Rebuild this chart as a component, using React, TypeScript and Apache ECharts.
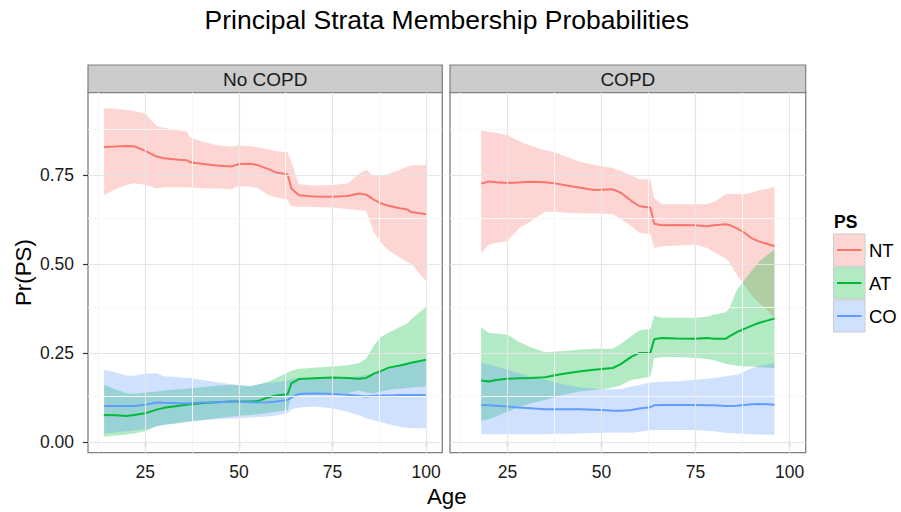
import React, { useEffect, useRef } from "react";
import * as echarts from "echarts";

// ---------- data ----------
const ages1 = [14, 17, 20, 22, 25, 28, 30, 34, 36, 37, 40, 44, 48, 50, 53, 55, 58, 60, 63, 64, 66, 70, 75, 79, 82, 84, 86, 88, 90, 93, 95, 96, 100];
const nt1 = [0.829, 0.830, 0.832, 0.831, 0.818, 0.802, 0.797, 0.793, 0.792, 0.786, 0.782, 0.777, 0.774, 0.781, 0.782, 0.778, 0.766, 0.757, 0.752, 0.712, 0.693, 0.690, 0.689, 0.691, 0.698, 0.695, 0.681, 0.670, 0.664, 0.657, 0.653, 0.646, 0.640];
const ntHi1 = [0.938, 0.936, 0.933, 0.930, 0.922, 0.888, 0.883, 0.875, 0.873, 0.855, 0.845, 0.834, 0.830, 0.833, 0.831, 0.828, 0.822, 0.817, 0.814, 0.786, 0.724, 0.721, 0.722, 0.726, 0.752, 0.765, 0.746, 0.749, 0.752, 0.765, 0.774, 0.777, 0.778];
const ntLo1 = [0.694, 0.710, 0.722, 0.727, 0.723, 0.712, 0.716, 0.716, 0.716, 0.715, 0.713, 0.712, 0.710, 0.719, 0.717, 0.714, 0.693, 0.688, 0.681, 0.662, 0.661, 0.660, 0.659, 0.655, 0.652, 0.649, 0.590, 0.560, 0.538, 0.518, 0.506, 0.500, 0.452];
const at1 = [0.076, 0.075, 0.073, 0.076, 0.081, 0.091, 0.096, 0.102, 0.105, 0.106, 0.109, 0.112, 0.114, 0.114, 0.114, 0.115, 0.126, 0.131, 0.134, 0.165, 0.177, 0.179, 0.181, 0.180, 0.178, 0.180, 0.192, 0.200, 0.209, 0.215, 0.220, 0.223, 0.231];
const atHi1 = [0.161, 0.148, 0.137, 0.135, 0.139, 0.142, 0.145, 0.148, 0.150, 0.151, 0.154, 0.158, 0.161, 0.159, 0.157, 0.161, 0.170, 0.180, 0.195, 0.200, 0.206, 0.209, 0.212, 0.216, 0.221, 0.235, 0.271, 0.296, 0.308, 0.323, 0.334, 0.345, 0.380];
const atLo1 = [0.015, 0.018, 0.021, 0.024, 0.030, 0.045, 0.049, 0.053, 0.056, 0.057, 0.061, 0.067, 0.072, 0.074, 0.076, 0.078, 0.082, 0.085, 0.090, 0.125, 0.131, 0.137, 0.137, 0.137, 0.145, 0.139, 0.137, 0.142, 0.147, 0.150, 0.152, 0.153, 0.156];
const co1 = [0.101, 0.101, 0.101, 0.101, 0.105, 0.111, 0.110, 0.109, 0.109, 0.109, 0.111, 0.112, 0.114, 0.113, 0.112, 0.111, 0.112, 0.114, 0.118, 0.125, 0.135, 0.136, 0.135, 0.133, 0.130, 0.128, 0.130, 0.131, 0.131, 0.132, 0.132, 0.132, 0.132];
const coHi1 = [0.203, 0.196, 0.186, 0.186, 0.192, 0.193, 0.185, 0.182, 0.180, 0.180, 0.175, 0.168, 0.162, 0.160, 0.157, 0.162, 0.166, 0.168, 0.172, 0.178, 0.180, 0.180, 0.180, 0.182, 0.185, 0.188, 0.192, 0.198, 0.205, 0.215, 0.222, 0.224, 0.231];
const coLo1 = [0.024, 0.027, 0.030, 0.033, 0.036, 0.043, 0.047, 0.054, 0.058, 0.059, 0.061, 0.064, 0.066, 0.067, 0.069, 0.070, 0.072, 0.075, 0.081, 0.092, 0.097, 0.100, 0.095, 0.085, 0.075, 0.067, 0.061, 0.056, 0.050, 0.043, 0.040, 0.039, 0.039];

const ages2 = [18, 20, 22, 25, 28, 31, 35, 38, 40, 44, 48, 50, 53, 55, 58, 60, 63, 64, 66, 70, 75, 78, 80, 83, 84, 86, 88, 90, 92, 94, 96];
const nt2 = [0.726, 0.732, 0.730, 0.728, 0.729, 0.731, 0.730, 0.726, 0.722, 0.715, 0.708, 0.709, 0.710, 0.701, 0.677, 0.663, 0.658, 0.613, 0.609, 0.610, 0.609, 0.606, 0.609, 0.612, 0.610, 0.600, 0.588, 0.572, 0.563, 0.557, 0.550];
const ntHi2 = [0.875, 0.872, 0.869, 0.862, 0.846, 0.833, 0.820, 0.813, 0.804, 0.788, 0.778, 0.775, 0.770, 0.762, 0.749, 0.738, 0.738, 0.685, 0.668, 0.668, 0.668, 0.668, 0.675, 0.696, 0.697, 0.697, 0.696, 0.700, 0.708, 0.711, 0.717];
const ntLo2 = [0.530, 0.555, 0.560, 0.565, 0.600, 0.619, 0.647, 0.647, 0.645, 0.643, 0.642, 0.642, 0.640, 0.628, 0.606, 0.588, 0.583, 0.545, 0.550, 0.552, 0.555, 0.545, 0.533, 0.516, 0.505, 0.470, 0.440, 0.412, 0.390, 0.370, 0.349];
const at2 = [0.173, 0.170, 0.174, 0.178, 0.179, 0.180, 0.182, 0.188, 0.192, 0.198, 0.203, 0.205, 0.208, 0.218, 0.240, 0.250, 0.251, 0.289, 0.292, 0.291, 0.290, 0.292, 0.290, 0.290, 0.297, 0.309, 0.318, 0.327, 0.335, 0.341, 0.347];
const atHi2 = [0.323, 0.306, 0.305, 0.302, 0.282, 0.267, 0.252, 0.254, 0.256, 0.259, 0.262, 0.262, 0.262, 0.275, 0.298, 0.313, 0.318, 0.355, 0.349, 0.349, 0.349, 0.352, 0.358, 0.364, 0.375, 0.428, 0.455, 0.482, 0.508, 0.525, 0.541];
const atLo2 = [0.060, 0.064, 0.072, 0.085, 0.098, 0.108, 0.118, 0.127, 0.133, 0.142, 0.146, 0.148, 0.153, 0.159, 0.175, 0.178, 0.184, 0.236, 0.238, 0.239, 0.236, 0.233, 0.230, 0.220, 0.218, 0.214, 0.212, 0.212, 0.210, 0.209, 0.208];
const co2 = [0.104, 0.103, 0.102, 0.100, 0.097, 0.095, 0.092, 0.092, 0.092, 0.092, 0.091, 0.090, 0.088, 0.088, 0.090, 0.094, 0.098, 0.103, 0.104, 0.104, 0.104, 0.103, 0.103, 0.101, 0.101, 0.102, 0.104, 0.106, 0.107, 0.106, 0.105];
const coHi2 = [0.222, 0.218, 0.212, 0.203, 0.193, 0.184, 0.175, 0.166, 0.162, 0.154, 0.150, 0.148, 0.148, 0.148, 0.156, 0.160, 0.167, 0.168, 0.169, 0.170, 0.175, 0.178, 0.180, 0.185, 0.186, 0.189, 0.198, 0.208, 0.214, 0.218, 0.222];
const coLo2 = [0.022, 0.022, 0.022, 0.022, 0.022, 0.022, 0.022, 0.023, 0.023, 0.024, 0.025, 0.026, 0.027, 0.027, 0.026, 0.029, 0.033, 0.034, 0.034, 0.034, 0.034, 0.032, 0.030, 0.026, 0.025, 0.024, 0.023, 0.022, 0.021, 0.021, 0.020];

const facets = ["No COPD", "COPD"];
const strata = ["NT", "AT", "CO"];
const xTicks = [25, 50, 75, 100];
const xMinor = [12.5, 37.5, 62.5, 87.5];
const yTicks = [0, 0.25, 0.5, 0.75];
const yMinor = [0.125, 0.375, 0.625, 0.875];

// ---------- styling ----------
const COLORS = ["#F8766D", "#00BA38", "#619CFF"];
const FILLS = ["rgba(248,118,109,0.3)", "rgba(0,186,56,0.3)", "rgba(97,156,255,0.3)"];
const FONT = "Liberation Sans, Arial, Helvetica, sans-serif";

const GRIDS = [
  { left: 88, top: 92.5, width: 354.3, height: 360.2 },
  { left: 450, top: 92.5, width: 355.7, height: 360.2 },
];

export default function App() {
  const ref = useRef<HTMLDivElement>(null);

  useEffect(() => {
    if (!ref.current) return;
    const chart = echarts.init(ref.current, undefined, { renderer: "svg" });

    const panels = [
      { ages: ages1, mid: [nt1, at1, co1], lo: [ntLo1, atLo1, coLo1], hi: [ntHi1, atHi1, coHi1] },
      { ages: ages2, mid: [nt2, at2, co2], lo: [ntLo2, atLo2, coLo2], hi: [ntHi2, atHi2, coHi2] },
    ];

    const series: any[] = [];
    panels.forEach((p, g) => {
      // grid lines
      const ml: any[] = [];
      yMinor.forEach((v) => ml.push({ yAxis: v, lineStyle: { color: "#F7F7F7", width: 1, type: "solid" } }));
      xMinor.forEach((v) => ml.push({ xAxis: v, lineStyle: { color: "#F7F7F7", width: 1, type: "solid" } }));
      yTicks.forEach((v) => ml.push({ yAxis: v, lineStyle: { color: "#E5E5E5", width: 1.2, type: "solid" } }));
      xTicks.forEach((v) => ml.push({ xAxis: v, lineStyle: { color: "#E5E5E5", width: 1.2, type: "solid" } }));
      series.push({
        type: "line",
        xAxisIndex: g,
        yAxisIndex: g,
        data: [],
        z: 1,
        silent: true,
        markLine: { silent: true, symbol: ["none", "none"], label: { show: false }, animation: false, data: ml },
      });
      // ribbons (polygon through the axes' scales)
      strata.forEach((s, k) => {
        const ages = p.ages;
        const lo = p.lo[k];
        const hi = p.hi[k];
        series.push({
          type: "custom",
          xAxisIndex: g,
          yAxisIndex: g,
          silent: true,
          z: 2,
          data: ages.map((a, i) => [a, lo[i], hi[i]]),
          encode: { x: 0, y: [1, 2] },
          renderItem: (params: any, api: any) => {
            if (params.dataIndex !== 0) return null;
            const pts: number[][] = [];
            for (let i = 0; i < ages.length; i++) pts.push(api.coord([ages[i], hi[i]]));
            for (let i = ages.length - 1; i >= 0; i--) pts.push(api.coord([ages[i], lo[i]]));
            return { type: "polygon", shape: { points: pts }, style: { fill: FILLS[k] } };
          },
        });
      });
      // lines
      strata.forEach((s, k) => {
        series.push({
          type: "line",
          name: s,
          xAxisIndex: g,
          yAxisIndex: g,
          symbol: "none",
          silent: true,
          z: 3,
          lineStyle: { color: COLORS[k], width: 2 },
          data: p.ages.map((a, i) => [a, p.mid[k][i]]),
        });
      });
    });

    const axisLabelBase = { fontSize: 17.5, color: "#1a1a1a", fontFamily: FONT };

    const graphic: any[] = [];
    graphic.push({
      type: "text",
      x: 446.8,
      y: 20,
      style: { text: "Principal Strata Membership Probabilities", fontSize: 26.5, fontFamily: FONT, fill: "#000", align: "center", verticalAlign: "middle" },
    });
    GRIDS.forEach((gr, g) => {
      graphic.push({
        type: "rect",
        shape: { x: gr.left, y: 65, width: gr.width, height: gr.top - 65 },
        style: { fill: "#CCCCCC", stroke: "#7F7F7F", lineWidth: 1.2 },
      });
      graphic.push({
        type: "text",
        x: gr.left + gr.width / 2,
        y: 79.5,
        style: { text: facets[g], fontSize: 19, fontFamily: FONT, fill: "#1a1a1a", align: "center", verticalAlign: "middle" },
      });
    });
    graphic.push({
      type: "text",
      x: 446.8,
      y: 496,
      style: { text: "Age", fontSize: 22.3, fontFamily: FONT, fill: "#000", align: "center", verticalAlign: "middle" },
    });
    graphic.push({
      type: "text",
      x: 23,
      y: 272.6,
      rotation: Math.PI / 2,
      style: { text: "Pr(PS)", fontSize: 22.3, fontFamily: FONT, fill: "#000", align: "center", verticalAlign: "middle" },
    });
    graphic.push({
      type: "text",
      x: 834,
      y: 222,
      style: { text: "PS", fontSize: 17.5, fontWeight: "bold", fontFamily: FONT, fill: "#000", align: "left", verticalAlign: "middle" },
    });
    strata.forEach((s, k) => {
      const y0 = 234 + k * 33;
      graphic.push({
        type: "rect",
        shape: { x: 833.5, y: y0, width: 31.5, height: 32 },
        style: { fill: FILLS[k], stroke: "#CCCCCC", lineWidth: 1 },
      });
      graphic.push({
        type: "line",
        shape: { x1: 837, y1: y0 + 16, x2: 861.5, y2: y0 + 16 },
        style: { stroke: COLORS[k], lineWidth: 2 },
      });
      graphic.push({
        type: "text",
        x: 869,
        y: y0 + 16.5,
        style: { text: s, fontSize: 18.5, fontFamily: FONT, fill: "#000", align: "left", verticalAlign: "middle" },
      });
    });

    chart.setOption({
      animation: false,
      backgroundColor: "#fff",
      grid: GRIDS.map((gr) => ({
        ...gr,
        show: true,
        borderColor: "#7F7F7F",
        borderWidth: 1.3,
        backgroundColor: "#fff",
        containLabel: false,
      })),
      xAxis: GRIDS.map((gr, g) => ({
        type: "value",
        gridIndex: g,
        min: 9.7,
        max: 104.3,
        axisLine: { show: false },
        splitLine: { show: false },
        axisTick: { show: true, length: 5, customValues: xTicks, lineStyle: { color: "#333", width: 1.2 } },
        axisLabel: { ...axisLabelBase, margin: 10, customValues: xTicks },
      })),
      yAxis: GRIDS.map((gr, g) => ({
        type: "value",
        gridIndex: g,
        min: -0.03,
        max: 0.982,
        axisLine: { show: false },
        splitLine: { show: false },
        axisTick: { show: g === 0, length: 5, customValues: yTicks, lineStyle: { color: "#333", width: 1.2 } },
        axisLabel: {
          ...axisLabelBase,
          show: g === 0,
          margin: 14,
          customValues: yTicks,
          formatter: (v: number) => v.toFixed(2),
        },
      })),
      series,
      graphic,
    });

    return () => chart.dispose();
  }, []);

  return <div ref={ref} style={{ position: "fixed", left: 0, top: 0, width: 901, height: 512 }} />;
}
